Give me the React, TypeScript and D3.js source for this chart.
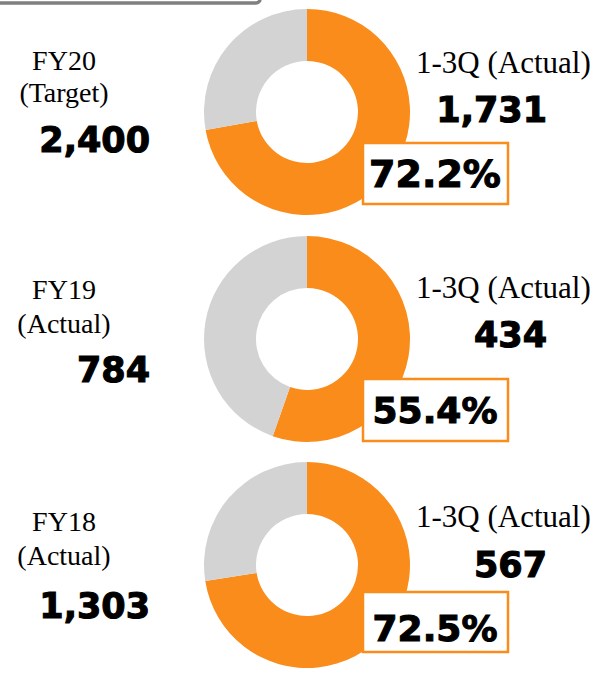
import React from 'react';
import * as d3 from 'd3';

// chart data
const periods = ['FY20', 'FY19', 'FY18'];
const periodNotes = ['(Target)', '(Actual)', '(Actual)'];
const fullYearValues = [2400, 784, 1303];
const ytdLabels = ['1-3Q (Actual)', '1-3Q (Actual)', '1-3Q (Actual)'];
const ytdValues = [1731, 434, 567];
const progressRates = [72.2, 55.4, 72.5];

// layout (offsets from each donut centre)
const rowLayout = [
  { cy: 112, fy: -42, note: -10, val: 40, ytd: -39, ytdVal: 10, boxTop: 31, boxH: 61, pct: 75, pctSize: 38 },
  { cy: 339, fy: -40, note: -6, val: 43, ytd: -41, ytdVal: 8, boxTop: 40, boxH: 62, pct: 84, pctSize: 36 },
  { cy: 565, fy: -34, note: 0, val: 53, ytd: -38, ytdVal: 12, boxTop: 27, boxH: 60, pct: 76, pctSize: 36 },
];

const W = 596;
const H = 673;
const cx = 307;
const ORANGE = '#F98C1A';
const GREY = '#D3D3D3';
const serif = '"Liberation Serif", "Times New Roman", serif';
const bold = '"DejaVu Sans", "Liberation Sans", Arial, sans-serif';

const fmt = d3.format(',');

const pie = d3.pie<number>().sort(null).value(d => d);
const arc = d3.arc<d3.PieArcDatum<number>>().innerRadius(51).outerRadius(103);

// heavy black figures (a touch of stroke to get the Arial Black weight)
const heavy = { fontFamily: bold, fontWeight: 'bold' as const, fill: '#000', stroke: '#000', strokeWidth: 1.1 };

const App: React.FC = () => {
  return (
    <svg
      width={W}
      height={H}
      style={{ position: 'absolute', left: 0, top: 0, background: '#fff' }}
    >
      {/* bottom edge of the grey header box */}
      <rect x={-20} y={-30} width={280} height={33} rx={4} fill="none" stroke="#7F7F7F" strokeWidth={3.5} />

      {periods.map((p, i) => {
        const L = rowLayout[i];
        const cy = L.cy;
        const arcs = pie([progressRates[i], 100 - progressRates[i]]);
        return (
          <g key={p}>
            <g transform={`translate(${cx},${cy})`}>
              {arcs.map((a, j) => (
                <path key={j} d={arc(a) || ''} fill={j === 0 ? ORANGE : GREY} />
              ))}
            </g>

            {/* left side: full-year figure */}
            <text x={64} y={cy + L.fy} textAnchor="middle" fontFamily={serif} fontSize={28} fill="#000">
              {p}
            </text>
            <text x={64} y={cy + L.note} textAnchor="middle" fontFamily={serif} fontSize={28} fill="#000">
              {periodNotes[i]}
            </text>
            <text x={150} y={cy + L.val} textAnchor="end" fontSize={35} {...heavy}>
              {fmt(fullYearValues[i])}
            </text>

            {/* right side: year-to-date */}
            <text x={416} y={cy + L.ytd} fontFamily={serif} fontSize={31} fill="#000">
              {ytdLabels[i]}
            </text>
            <text x={547} y={cy + L.ytdVal} textAnchor="end" fontSize={35} {...heavy}>
              {fmt(ytdValues[i])}
            </text>

            {/* progress box */}
            <rect
              x={363}
              y={cy + L.boxTop}
              width={145}
              height={L.boxH}
              fill="#fff"
              stroke={ORANGE}
              strokeWidth={2.5}
            />
            <text x={435} y={cy + L.pct} textAnchor="middle" fontSize={L.pctSize} {...heavy}>
              {progressRates[i].toFixed(1)}%
            </text>
          </g>
        );
      })}
    </svg>
  );
};

export default App;
